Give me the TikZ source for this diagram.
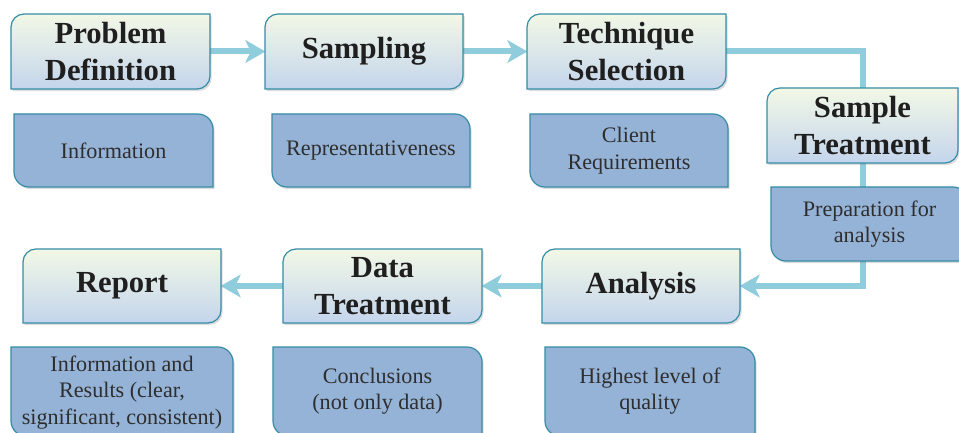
\documentclass[tikz,border=0pt]{standalone}
\usepackage{fontspec}
\setmainfont{Liberation Serif}
\usetikzlibrary{arrows.meta,shadows,backgrounds}

\definecolor{hdrtop}{HTML}{F2F8E6}
\definecolor{hdrbot}{HTML}{C4D5EC}
\definecolor{edgeteal}{HTML}{348CA6}
\definecolor{detfill}{HTML}{95B3D7}
\definecolor{flowblue}{HTML}{8FCDDD}

\tikzset{
  x=0.75pt, y=0.75pt,
  softshadow/.style={drop shadow={opacity=0.28, shadow xshift=1.2pt, shadow yshift=-1.6pt}},
  hdrshape/.style={draw=edgeteal, line width=0.9pt, top color=hdrtop, bottom color=hdrbot, softshadow},
  detshape/.style={draw=edgeteal, line width=0.9pt, fill=detfill, softshadow},
  hdrtext/.style={font=\fontsize{23}{27.8}\selectfont\bfseries, text=black!88, align=center, inner sep=0pt},
  dettext/.style={font=\fontsize{16.6}{19.8}\selectfont, text=black!82, align=center, inner sep=0pt},
  flow/.style={draw=flowblue, line width=4.5pt},
  flowarrow/.style={flow, -{Stealth[length=15pt, width=17pt, inset=4pt]}, shorten >=-0.5pt},
}

% heading box: rounded top-left and bottom-right corners (pixel-style coordinates, y down)
\newcommand\hdrbox[6]{%
  \path[hdrshape] ({#2},{432-(#5)}) -- ({#2},{432-(#3)-13})
    arc[start angle=180, end angle=90, radius=13] -- ({#4},{432-(#3)})
    -- ({#4},{432-(#5)+13}) arc[start angle=0, end angle=-90, radius=13] -- cycle;
  \node[hdrtext, minimum width={((#4)-(#2))*0.75pt}, minimum height={((#5)-(#3))*0.75pt}]
    (#1) at ({((#2)+(#4))/2},{432-((#3)+(#5))/2}) {#6};
}
% detail box: rounded top-right and bottom-left corners
\newcommand\detbox[7]{%
  \path[detshape] ({#2},{432-(#5)+15}) -- ({#2},{432-(#3)})
    -- ({#4-15},{432-(#3)}) arc[start angle=90, end angle=0, radius=15]
    -- ({#4},{432-(#5)}) -- ({#2+15},{432-(#5)}) arc[start angle=270, end angle=180, radius=15] -- cycle;
  \node[dettext] (#1) at ({((#2)+(#4))/2},{432-(#6)}) {#7};
}

\begin{document}
\begin{tikzpicture}
  \useasboundingbox (0,0) rectangle (959,432);
  \clip (0,0) rectangle (959,432);

  % process steps
  \hdrbox{pd}{11}{14}{210}{89}{Problem\\Definition}
  \hdrbox{samp}{265}{14}{463}{89}{Sampling}
  \hdrbox{tech}{527}{14}{726}{89}{Technique\\Selection}
  \hdrbox{st}{767}{88}{958}{163}{Sample\\Treatment}
  \hdrbox{ana}{542}{249}{740}{323}{Analysis}
  \hdrbox{dt}{283}{249}{482}{323}{Data\\Treatment}
  \hdrbox{rep}{23}{249}{221}{323}{Report}

  % what each step stands for
  \detbox{info}{14}{114}{213}{187}{150.5}{Information}
  \detbox{repr}{272}{114}{470}{187}{150.5}{Representativeness}
  \detbox{client}{530}{114}{728}{187}{150.5}{Client\\Requirements}
  \detbox{prep}{771}{187}{968}{261}{224}{Preparation for\\analysis}
  \detbox{hlq}{545}{347}{755}{436}{391}{Highest level of\\quality}
  \detbox{concl}{273}{347}{482}{436}{391.5}{Conclusions\\(not only data)}
  \detbox{infres}{11}{347}{233}{436}{392.5}{Information and\\Results (clear,\\significant, consistent)}

  % flow between the steps
  \begin{pgfonlayer}{background}
    \draw[flowarrow] (pd.east) -- (samp.west);
    \draw[flowarrow] (samp.east) -- (tech.west);
    \draw[flow] (tech.east) -| (st.north);
    \draw[flowarrow] (st.south) |- (ana.east);
    \draw[flowarrow] (ana.west) -- (dt.east);
    \draw[flowarrow] (dt.west) -- (rep.east);
  \end{pgfonlayer}
\end{tikzpicture}
\end{document}
